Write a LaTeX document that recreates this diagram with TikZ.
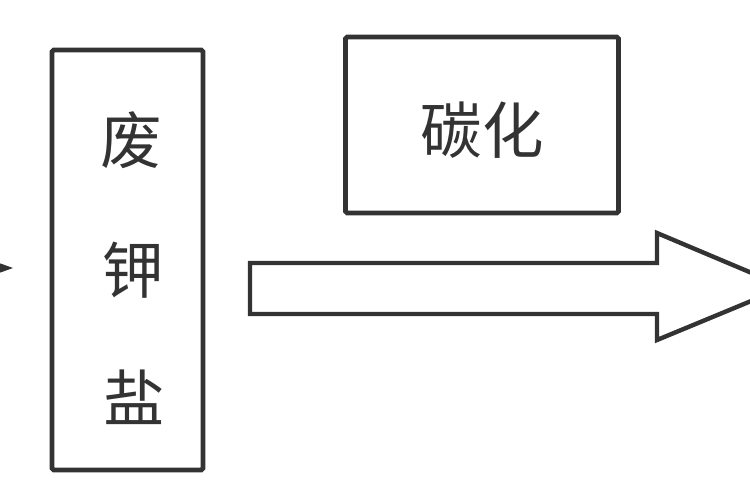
\documentclass[tikz,border=0pt]{standalone}
\usepackage{fontspec}
\newfontfamily\cjk{Noto Sans CJK SC}
\usetikzlibrary{arrows.meta}
\definecolor{ink}{HTML}{333333}
\tikzset{
  box/.style={draw=ink, line width=2.8pt, inner sep=0pt, rounded corners=1pt},
  lbl/.style={font=\cjk\fontsize{35}{35}\selectfont, text=ink, inner sep=0pt},
  bigarrow/.style={draw=ink, line width=2.5pt, fill=white, line join=miter},
}
\begin{document}
\begin{tikzpicture}[x=0.02cm, y=-0.02cm]
\useasboundingbox (0,0) rectangle (750,500);
% vertical box
\node[box, minimum width=151*0.02cm, minimum height=420*0.02cm] (waste) at (127.5,260) {};
\node[lbl] (c1) at (131,140) {废};
\node[lbl] (c2) at (133,270) {钾};
\node[lbl] (c3) at (134,397) {盐};
% top box
\node[box, minimum width=273*0.02cm, minimum height=176*0.02cm] (carb) at (482,125) {};
\node[lbl] (carbl) at (482,130) {碳化};
% incoming arrow at left edge
\coordinate (inA) at (-40,268);
\coordinate (inB) at (13,268);
\draw[ink, line width=2pt, -{Stealth[length=14pt, width=10pt]}] (inA) -- (inB);
% big block arrow
\coordinate (s1) at (250,263);
\coordinate (s2) at (657,263);
\coordinate (h1) at (657,233);
\coordinate (tip) at (785,287);
\coordinate (h2) at (657,340);
\coordinate (s3) at (657,314);
\coordinate (s4) at (250,314);
\draw[bigarrow] (s1) -- (s2) -- (h1) -- (tip) -- (h2) -- (s3) -- (s4) -- cycle;
\end{tikzpicture}
\end{document}
